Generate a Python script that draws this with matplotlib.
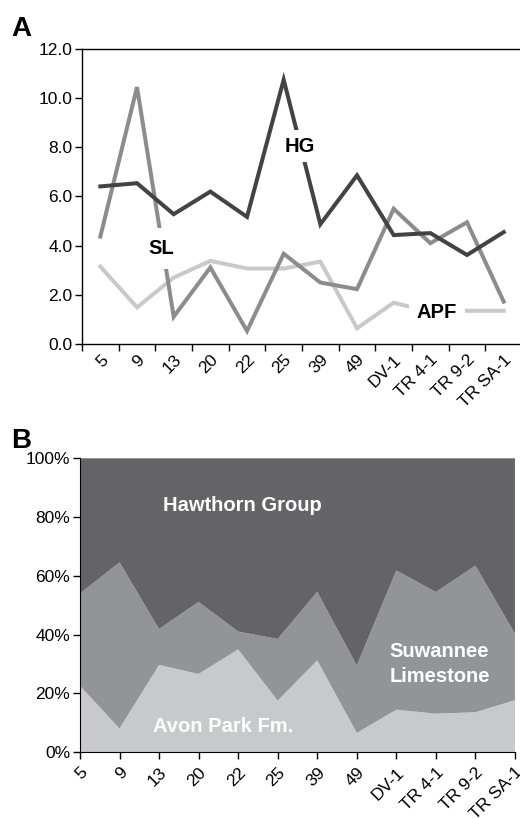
import matplotlib
matplotlib.use("Agg")
import matplotlib.pyplot as plt
import numpy as np
from matplotlib.ticker import FixedLocator, FuncFormatter

plt.rcParams["font.family"] = ["Liberation Sans", "DejaVu Sans"]

# sites along the transect
sites = ["5", "9", "13", "20", "22", "25", "39", "49", "DV-1", "TR 4-1", "TR 9-2", "TR SA-1"]

# panel A values per formation
hg = [6.41, 6.54, 5.28, 6.20, 5.17, 10.75, 4.87, 6.86, 4.43, 4.51, 3.62, 4.55]
sl = [4.37, 10.45, 1.11, 3.11, 0.53, 3.67, 2.50, 2.23, 5.50, 4.10, 4.95, 1.72]
apf = [3.15, 1.49, 2.70, 3.38, 3.07, 3.07, 3.35, 0.64, 1.68, 1.30, 1.35, 1.35]

y_ticks_a = [0, 2, 4, 6, 8, 10, 12]
y_ticks_b = [0, 20, 40, 60, 80, 100]

c_hg, c_sl, c_apf = "#434344", "#8c8c8f", "#c9c9ca"
f_hg, f_sl, f_apf = "#646467", "#939497", "#c8c9cb"

TICK_FS = 12.5
LABEL_FS = 14.5

fig = plt.figure(figsize=(5.2, 8.19), dpi=100)

# ---- panel A ----
ax = fig.add_axes([0.1577, 0.5800, 0.8462, 0.3602])
x = np.arange(len(sites))
ax.plot(x, apf, color=c_apf, lw=2.9, solid_joinstyle="miter", zorder=2)
ax.plot(x, sl, color=c_sl, lw=2.9, solid_joinstyle="miter", zorder=3)
ax.plot(x, hg, color=c_hg, lw=2.9, solid_joinstyle="miter", zorder=4)
ax.set_xlim(-0.5, len(sites) - 0.5)
ax.set_ylim(0, 12)
ax.set_yticks(y_ticks_a)
ax.set_yticklabels([f"{v:.1f}" for v in y_ticks_a], fontsize=TICK_FS)
ax.xaxis.set_major_locator(FixedLocator(np.arange(-0.5, len(sites), 1.0)))
ax.xaxis.set_major_formatter(FuncFormatter(lambda v, p: ""))
ax.xaxis.set_minor_locator(FixedLocator(x))
ax.set_xticklabels(sites, minor=True, rotation=45, ha="right", rotation_mode="anchor", fontsize=TICK_FS)
ax.tick_params(axis="x", which="minor", length=0, pad=6)
ax.tick_params(axis="both", which="major", direction="out", length=5, width=1)
ax.tick_params(axis="y", pad=2)
ax.spines["right"].set_visible(False)
for s in ["left", "bottom", "top"]:
    ax.spines[s].set_linewidth(1)
ax.text(5.45, 8.05, "HG", fontsize=LABEL_FS, fontweight="bold", ha="center", va="center",
        bbox=dict(facecolor="white", edgecolor="none", pad=5), zorder=6)
ax.text(1.66, 3.9, "SL", fontsize=LABEL_FS, fontweight="bold", ha="center", va="center",
        bbox=dict(facecolor="white", edgecolor="none", pad=8), zorder=6)
ax.text(9.18, 1.27, "APF", fontsize=LABEL_FS, fontweight="bold", ha="center", va="center",
        bbox=dict(facecolor="white", edgecolor="none", pad=6), zorder=6)
fig.text(0.021, 0.965, "A", fontsize=20, fontweight="bold", ha="left", va="center")

# ---- panel B ----
bx = fig.add_axes([0.1538, 0.0815, 0.8365, 0.3589])
tot = np.array(hg) + np.array(sl) + np.array(apf)
p_apf = np.array(apf) / tot * 100
p_sl = np.array(sl) / tot * 100
p_hg = np.array(hg) / tot * 100
bx.stackplot(x, p_apf, p_sl, p_hg, colors=[f_apf, f_sl, f_hg], linewidth=0)
bx.set_xlim(0, len(sites) - 1)
bx.set_ylim(0, 100)
bx.set_yticks(y_ticks_b)
bx.set_yticklabels([f"{v}%" for v in y_ticks_b], fontsize=TICK_FS)
bx.set_xticks(x)
bx.set_xticklabels(sites, rotation=45, ha="right", rotation_mode="anchor", fontsize=TICK_FS)
bx.tick_params(axis="both", direction="out", length=5, width=1)
bx.tick_params(axis="y", pad=2)
bx.tick_params(axis="x", pad=4)
bx.spines["right"].set_visible(False)
bx.spines["top"].set_visible(False)
bx.text(4.1, 83.8, "Hawthorn Group", color="white", fontsize=LABEL_FS, fontweight="bold", ha="center", va="center")
bx.text(9.09, 29.9, "Suwannee\nLimestone", color="white", fontsize=LABEL_FS, fontweight="bold",
        ha="center", va="center", linespacing=1.4)
bx.text(3.62, 8.7, "Avon Park Fm.", color="white", fontsize=LABEL_FS, fontweight="bold", ha="center", va="center")
fig.text(0.021, 0.462, "B", fontsize=20, fontweight="bold", ha="left", va="center")

fig.savefig("out.png", dpi=100)
